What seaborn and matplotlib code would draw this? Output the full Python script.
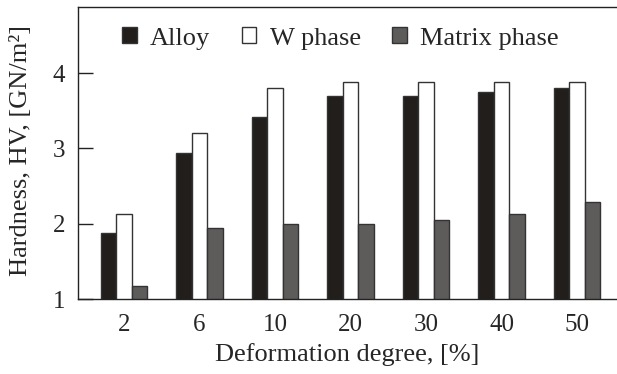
import matplotlib
matplotlib.use("Agg")
import matplotlib.pyplot as plt
import seaborn as sns
import pandas as pd

# Values
degrees = ["2", "6", "10", "20", "30", "40", "50"]
alloy = [1.88, 2.94, 3.42, 3.70, 3.70, 3.75, 3.81]
w_phase = [2.13, 3.21, 3.80, 3.89, 3.89, 3.89, 3.89]
matrix_phase = [1.17, 1.94, 2.00, 2.00, 2.05, 2.13, 2.29]
series_names = ["Alloy", "W phase", "Matrix phase"]
colors = ["#221e1b", "#ffffff", "#5f5b5a"]

df = pd.DataFrame({
    "degree": degrees * 3,
    "hardness": alloy + w_phase + matrix_phase,
    "series": [s for s in series_names for _ in degrees],
})

sns.set_theme(style="white")
plt.rcParams["font.family"] = ["Liberation Serif", "DejaVu Serif"]

W, H = 617, 374
fig = plt.figure(figsize=(W / 100, H / 100), dpi=100)
ax = fig.add_axes([78 / W, 1 - 299 / H, 1 - 78 / W, (299 - 7) / H])

sns.barplot(data=df, x="degree", y="hardness", hue="series", order=degrees,
            hue_order=series_names, palette=colors, width=0.62,
            edgecolor="#333333", linewidth=1.0, ax=ax, legend=True)

# bars start at 1, not 0
ax.set_ylim(1, 4.88)
ax.set_xlim(-0.61, 6.53)
ax.set_yticks([1, 2, 3, 4])

for s in ["left", "top", "bottom"]:
    ax.spines[s].set_color("#222222")
    ax.spines[s].set_linewidth(1.0)
ax.spines["right"].set_visible(False)

ax.tick_params(axis="y", direction="in", length=10.8, width=1.0, color="#222222",
               labelsize=18, pad=9, left=True)
ax.tick_params(axis="x", length=0, labelsize=18, pad=11)

ax.set_xlabel("Deformation degree, [%]", fontsize=19)
ax.set_ylabel("Hardness, HV, [GN/m²]", fontsize=19)
ax.xaxis.set_label_coords(0.5, -0.15)
ax.yaxis.set_label_coords(-0.085, 0.51)

ax.legend(loc="center left", bbox_to_anchor=(0.082, 0.892), ncol=3, frameon=False,
          fontsize=19, handlelength=0.55, handleheight=0.55, handletextpad=0.5,
          columnspacing=1.2, borderaxespad=0, borderpad=0)

fig.savefig("out.png", dpi=100)
